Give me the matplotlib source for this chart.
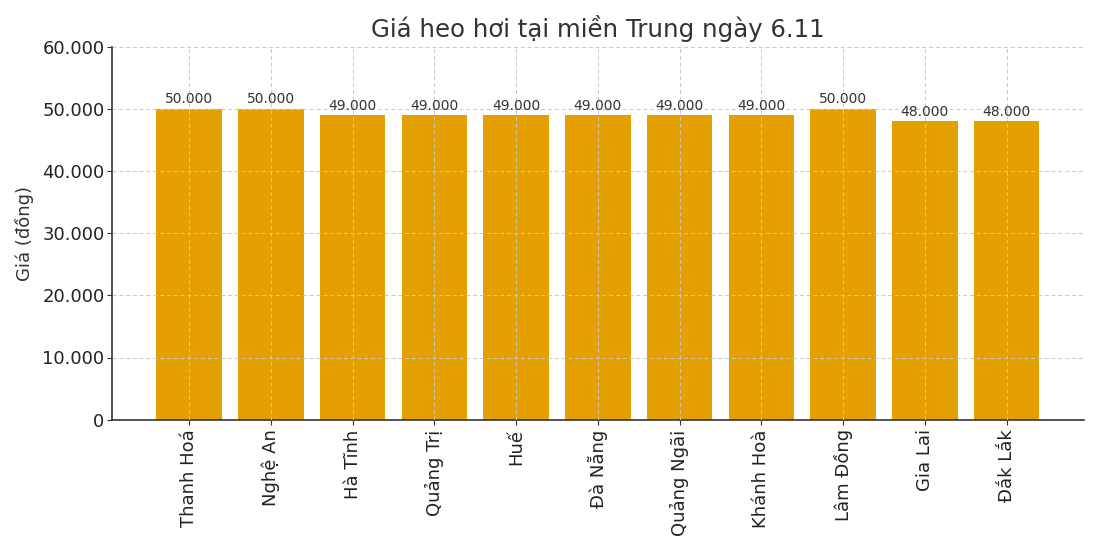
import matplotlib
matplotlib.use("Agg")
import matplotlib.pyplot as plt
from matplotlib.ticker import FuncFormatter

provinces = ["Thanh Hoá", "Nghệ An", "Hà Tĩnh", "Quảng Trị", "Huế", "Đà Nẵng",
             "Quảng Ngãi", "Khánh Hoà", "Lâm Đồng", "Gia Lai", "Đắk Lắk"]
prices = [50000, 50000, 49000, 49000, 49000, 49000, 49000, 49000, 50000, 48000, 48000]
title = "Giá heo hơi tại miền Trung ngày 6.11"
ylabel = "Giá (đồng)"

plt.rcParams['font.family'] = ['DejaVu Sans']

def fmt(v, pos=None):
    return f"{int(round(v)):,}".replace(",", ".")

fig = plt.figure(figsize=(11, 5.5), dpi=100)
ax = fig.add_axes([0.102, 0.237, 0.883, 0.678])
x = list(range(len(provinces)))
bars = ax.bar(x, prices, width=0.8, color="#E3A000", zorder=1)
ax.set_axisbelow(False)
ax.grid(True, linestyle=(0, (4, 3)), color="#c8c8c8", linewidth=0.7, zorder=2)
ax.set_ylim(0, 60000)
ax.set_yticks(range(0, 60001, 10000))
ax.yaxis.set_major_formatter(FuncFormatter(fmt))
ax.set_xticks(x)
ax.set_xticklabels(provinces, rotation=90)
ax.tick_params(axis='both', labelsize=13, colors="#333333", labelcolor="#222222")
ax.tick_params(axis='y', pad=2)
for s in ["top", "right"]:
    ax.spines[s].set_visible(False)
for s in ["left", "bottom"]:
    ax.spines[s].set_color("#333333")
    ax.spines[s].set_linewidth(1.2)
for xi, v in zip(x, prices):
    ax.text(xi, v + 400, fmt(v), ha="center", va="bottom", fontsize=10, color="#333333")
ax.set_title(title, fontsize=17.6, color="#333333", pad=7)
ax.set_ylabel(ylabel, fontsize=13, color="#333333", labelpad=6)
fig.savefig("out.png", dpi=100)
